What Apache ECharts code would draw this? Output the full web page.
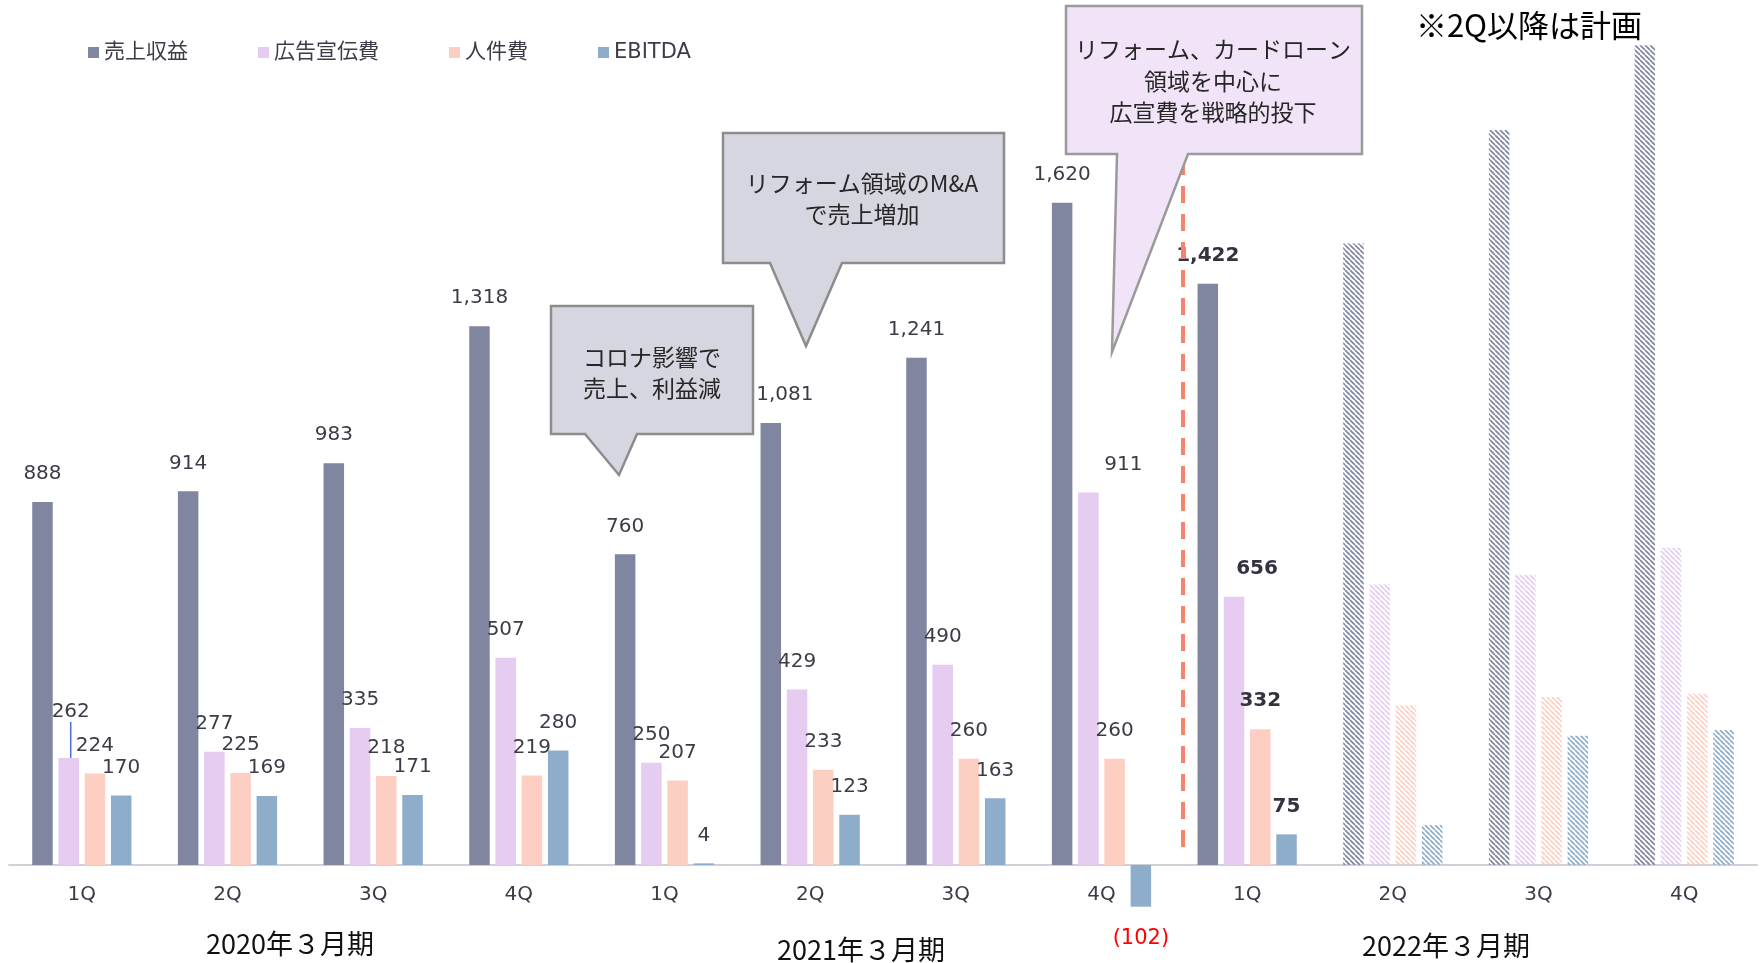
<!DOCTYPE html>
<html><head><meta charset="utf-8">
<script src="https://cdn.jsdelivr.net/npm/echarts@6/dist/echarts.min.js"></script>
<style>html,body{margin:0;padding:0;background:#fff;}#chart{width:1763px;height:963px;}</style>
</head><body><div id="chart"></div>
<script>
// ---- data ----
const categories = ['1Q','2Q','3Q','4Q','1Q','2Q','3Q','4Q','1Q','2Q','3Q','4Q'];
const seriesNames = ['売上収益','広告宣伝費','人件費','EBITDA'];
const revenue   = [888, 914, 983, 1318, 760, 1081, 1241, 1620, 1422, 1520, 1798, 2005];
const adCost    = [262, 277, 335, 507, 250, 429, 490, 911, 656, 687, 710, 776];
const personnel = [224, 225, 218, 219, 207, 233, 260, 260, 332, 390, 411, 419];
const ebitda    = [170, 169, 171, 280, 4, 123, 163, -102, 75, 98, 316, 330];
const periodLabels = ['2020年３月期','2021年３月期','2022年３月期'];
const planStartIndex = 9;   // 2Q of FY2022 onward = plan
const boldIndex = 8;        // latest actual quarter
const noteText = '※2Q以降は計画';
const callout1 = 'コロナ影響で\n売上、利益減';
const callout2 = 'リフォーム領域のM&A\nで売上増加';
const callout3 = 'リフォーム、カードローン\n領域を中心に\n広宣費を戦略的投下';

// ---- style ----
const colors = ['#8186A0','#E5CCF0','#FDCFC3','#8DADCB'];
const numFont = "'DejaVu Sans','Noto Sans CJK JP',sans-serif";
const jpFont = "'Noto Sans CJK JP',sans-serif";
const labelShift = {'0-5':{dx:14}, '1-7':{dx:35}, '1-8':{dx:23}, '1-0':{dx:2, dy:-18}};

function makePattern(color){
  const s = 5, c = document.createElement('canvas');
  c.width = s; c.height = s;
  const ctx = c.getContext('2d');
  ctx.strokeStyle = color; ctx.lineWidth = 1.7;
  for (let k = -1; k <= 1; k++){ ctx.beginPath(); ctx.moveTo(k*s, 0); ctx.lineTo(k*s + s, s); ctx.stroke(); }
  return c;
}
function fmt(p){
  const v = p.value;
  return v < 0 ? '(' + Math.abs(v) + ')' : v.toLocaleString('en-US');
}
function makeSeries(sIdx, values){
  const pat = makePattern(colors[sIdx]);
  return {
    name: seriesNames[sIdx], type: 'bar', barWidth: 20.5, barGap: '28%', clip: false,
    itemStyle: {color: colors[sIdx]},
    label: {show: true, position: 'top', distance: 18, fontFamily: numFont, fontSize: 20, color: '#3C3C48', formatter: fmt},
    labelLayout: p => labelShift[sIdx + '-' + p.dataIndex] || {},
    data: values.map((v, i) => {
      const d = {value: v};
      if (i >= planStartIndex){
        d.itemStyle = {color: {image: pat, repeat: 'repeat'}};
        d.label = {show: false};
      } else if (i === boldIndex){
        d.label = {fontWeight: 'bold', color: '#333340'};
      }
      if (v < 0) d.label = {position: 'bottom', distance: 21, fontSize: 21, color: '#FF0000'};
      if (sIdx === 1 && i === 0) d.labelLine = {show: true, lineStyle: {color: '#4F6BE0', width: 1.5}};
      return d;
    })
  };
}

const chart = echarts.init(document.getElementById('chart'));
chart.setOption({
  animation: false,
  backgroundColor: '#ffffff',
  grid: {left: 9, right: 6, top: 6.5, bottom: 98, containLabel: false, outerBoundsMode: 'none'},
  legend: {
    left: 88, top: 42, padding: 0, itemWidth: 11, itemHeight: 11, itemGap: 70, icon: 'rect',
    textStyle: {fontSize: 21, fontFamily: numFont, color: '#3C3C48'},
    data: seriesNames
  },
  xAxis: {
    type: 'category', data: categories,
    axisLine: {lineStyle: {color: '#D0D0D8', width: 2}},
    axisTick: {show: false},
    axisLabel: {margin: 20, fontSize: 20, fontFamily: numFont, color: '#3C3C48'}
  },
  yAxis: {type: 'value', min: 0, max: 2100, show: false, splitLine: {show: false}},
  series: [makeSeries(0, revenue), makeSeries(1, adCost), makeSeries(2, personnel), makeSeries(3, ebitda)],
  graphic: [
    {type: 'line', z: 100, shape: {x1: 1183, y1: 158, x2: 1183, y2: 855},
     style: {stroke: '#F4846A', lineWidth: 4, lineDash: [17, 11]}},
    {type: 'polygon', z: 110, shape: {points: [[551,306],[753,306],[753,434],[637,434],[619,475],[585,434],[551,434]]},
     style: {fill: '#D6D6E0', stroke: '#8C8C8C', lineWidth: 2.5}},
    {type: 'text', z: 111, x: 652, y: 373,
     style: {text: callout1, fontSize: 23, fontFamily: jpFont, fill: '#262626', align: 'center', verticalAlign: 'middle', lineHeight: 31}},
    {type: 'polygon', z: 110, shape: {points: [[723,133],[1004,133],[1004,263],[842,263],[806,346],[770,263],[723,263]]},
     style: {fill: '#D6D6E0', stroke: '#8C8C8C', lineWidth: 2.5}},
    {type: 'text', z: 111, x: 862, y: 199,
     style: {text: callout2, fontSize: 23, fontFamily: jpFont, fill: '#262626', align: 'center', verticalAlign: 'middle', lineHeight: 31}},
    {type: 'polygon', z: 110, shape: {points: [[1066,6],[1362,6],[1362,154],[1188,154],[1112,352],[1117,154],[1066,154]]},
     style: {fill: '#F1E4F8', stroke: '#9A9A9A', lineWidth: 2.5}},
    {type: 'text', z: 111, x: 1213, y: 81,
     style: {text: callout3, fontSize: 23, fontFamily: jpFont, fill: '#262626', align: 'center', verticalAlign: 'middle', lineHeight: 31.5}},
    {type: 'text', z: 111, x: 290, y: 944,
     style: {text: periodLabels[0], fontSize: 27, fontFamily: jpFont, fill: '#111111', align: 'center', verticalAlign: 'middle'}},
    {type: 'text', z: 111, x: 861, y: 950,
     style: {text: periodLabels[1], fontSize: 27, fontFamily: jpFont, fill: '#111111', align: 'center', verticalAlign: 'middle'}},
    {type: 'text', z: 111, x: 1446, y: 946,
     style: {text: periodLabels[2], fontSize: 27, fontFamily: jpFont, fill: '#111111', align: 'center', verticalAlign: 'middle'}},
    {type: 'text', z: 111, x: 1529, y: 25,
     style: {text: noteText, fontSize: 31, fontFamily: jpFont, fill: '#000000', align: 'center', verticalAlign: 'middle'}}
  ]
});
</script></body></html>
